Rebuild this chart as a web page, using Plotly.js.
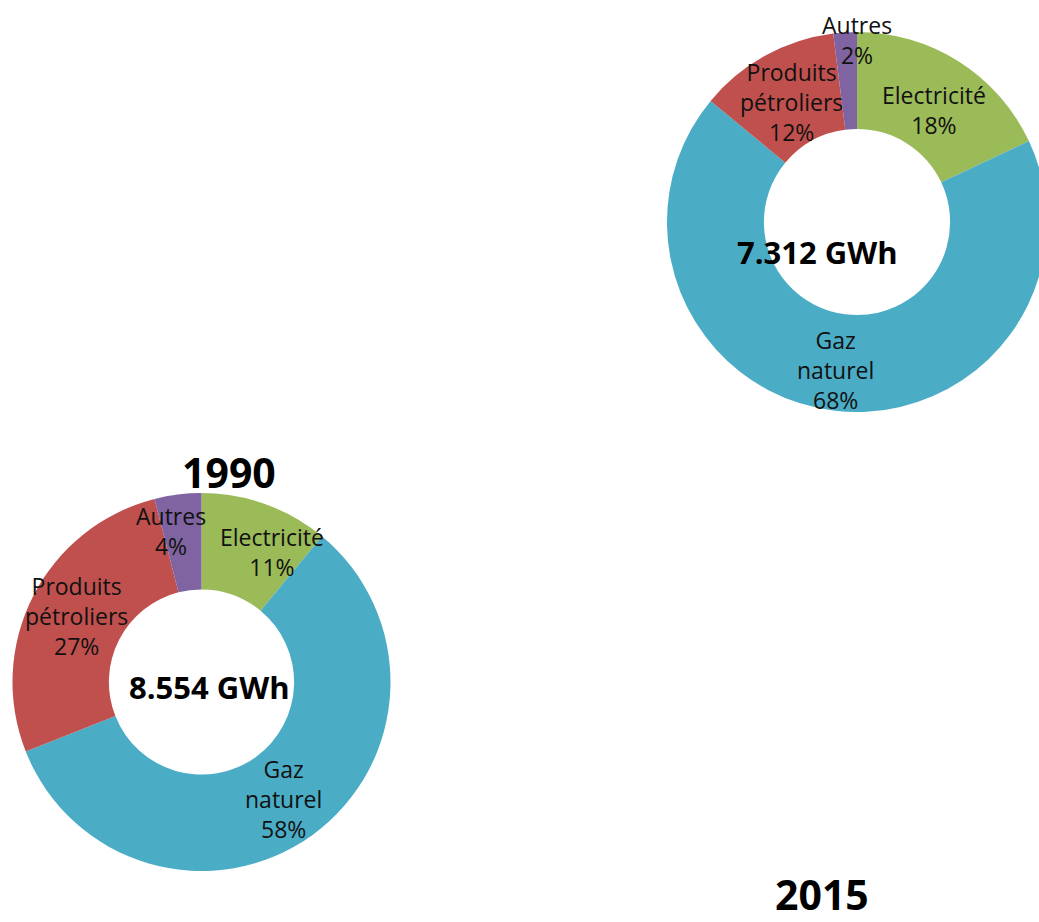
<!DOCTYPE html>
<html>
<head>
<meta charset="utf-8">
<script src="https://cdn.plot.ly/plotly-3.0.1.min.js"></script>
<style>
html,body{margin:0;padding:0;overflow:hidden;background:#fff;width:1039px;height:922px;}
#chart{width:1080px;height:922px;}
</style>
</head>
<body>
<div id="chart"></div>
<script>
// ---- data ----
var categories = ["Electricité", "Gaz naturel", "Produits pétroliers", "Autres"];
var labelLines = ["Electricité", "Gaz<br>naturel", "Produits<br>pétroliers", "Autres"];
var values1990 = [11, 58, 27, 4];
var values2015 = [18, 68, 12, 2];
var totals = ["8.554 GWh", "7.312 GWh"];
var years = ["1990", "2015"];
var colors = ["#9BBB59", "#4BACC6", "#C0504D", "#8064A2"];

// ---- layout geometry (pixels) ----
var W = 1080, H = 922;
var pies = [
  {cx: 201.5, cy: 682, r: 189, values: values1990, total: totals[0], year: years[0],
   totalOff: [8, 5], yearPos: [229, 472],
   nudges: [[23, 2], [-1, 3], [0, -2], [-13, -11]]},
  {cx: 857, cy: 222, r: 190, values: values2015, total: totals[1], year: years[1],
   totalOff: [-40, 30], yearPos: [822, 894],
   nudges: [[1, 8], [-4, 8], [3, 4], [9, -41]]}
];
var holeFrac = 0.49;

function px(x){ return x / W; }
function py(y){ return 1 - y / H; }

var traces = [];
var annotations = [];
pies.forEach(function(p){
  traces.push({
    type: "pie",
    labels: categories,
    values: p.values,
    sort: false,
    direction: "clockwise",
    rotation: 0,
    hole: holeFrac,
    textinfo: "none",
    hoverinfo: "label+percent",
    marker: {colors: colors, line: {width: 0}},
    showlegend: false,
    domain: {x: [px(p.cx - p.r), px(p.cx + p.r)], y: [py(p.cy + p.r), py(p.cy - p.r)]}
  });
  var sum = p.values.reduce(function(a,b){return a+b;}, 0);
  var cum = 0;
  var rMid = p.r * (1 + holeFrac) / 2;
  p.values.forEach(function(v, i){
    var mid = (cum + v / 2) / sum * 2 * Math.PI;
    cum += v;
    var x = p.cx + rMid * Math.sin(mid) + p.nudges[i][0];
    var y = p.cy - rMid * Math.cos(mid) + p.nudges[i][1];
    annotations.push({
      xref: "paper", yref: "paper", x: px(x), y: py(y),
      xanchor: "center", yanchor: "middle", showarrow: false,
      text: labelLines[i] + "<br>" + Math.round(v / sum * 100) + "%",
      font: {family: "Open Sans", size: 23, color: "#111"}
    });
  });
  annotations.push({
    xref: "paper", yref: "paper", x: px(p.cx + p.totalOff[0]), y: py(p.cy + p.totalOff[1]),
    xanchor: "center", yanchor: "middle", showarrow: false,
    text: "<b>" + p.total + "</b>",
    font: {family: "Open Sans", size: 31, color: "#000"}
  });
  annotations.push({
    xref: "paper", yref: "paper", x: px(p.yearPos[0]), y: py(p.yearPos[1]),
    xanchor: "center", yanchor: "middle", showarrow: false, borderpad: 0,
    text: "<b>" + p.year + "</b>",
    font: {family: "Open Sans", size: 41, color: "#000"}
  });
});

var layout = {
  width: W, height: H,
  margin: {l: 0, r: 0, t: 0, b: 0},
  paper_bgcolor: "#fff",
  plot_bgcolor: "#fff",
  annotations: annotations
};
Plotly.newPlot("chart", traces, layout, {displayModeBar: false, responsive: false, staticPlot: true});
</script>
</body>
</html>
